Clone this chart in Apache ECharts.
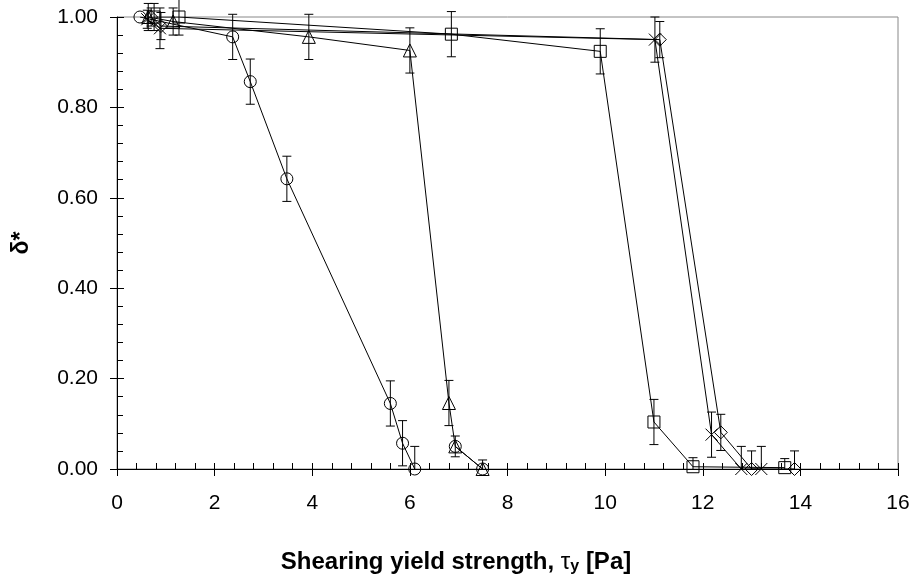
<!DOCTYPE html>
<html>
<head>
<meta charset="UTF-8">
<title>Shearing yield strength</title>
<script src="https://cdn.jsdelivr.net/npm/echarts@6/dist/echarts.min.js"></script>
<style>
  html, body { margin: 0; padding: 0; background: #fff; }
  #chart { width: 912px; height: 580px; }
</style>
</head>
<body>
<div id="chart"></div>
<script>
// data: x = shearing yield strength [Pa], y = delta*, err = error bar half-length
var circleX = [0.47, 2.37, 2.73, 3.48, 5.60, 5.85, 6.10];
var circleY = [1.00, 0.956, 0.857, 0.642, 0.145, 0.057, 0.000];
var circleErr = [0, 0.05, 0.05, 0.05, 0.05, 0.05, 0.05];

var triX = [0.64, 1.15, 3.93, 6.00, 6.80, 6.93, 7.49];
var triY = [1.00, 0.990, 0.956, 0.926, 0.146, 0.050, 0.000];
var triErr = [0.03, 0.03, 0.05, 0.05, 0.05, 0.023, 0.02];

var circle2X = [6.93, 7.49];
var circle2Y = [0.050, 0.000];

var squareX = [0.76, 1.27, 6.85, 9.90, 11.00, 11.80, 13.68];
var squareY = [1.00, 1.00, 0.962, 0.924, 0.104, 0.005, 0.003];
var squareErr = [0.03, 0.04, 0.05, 0.05, 0.05, 0.02, 0.02];

var crossX = [0.62, 0.88, 11.02, 12.18, 12.79, 13.20];
var crossY = [0.995, 0.975, 0.950, 0.076, 0.000, 0.000];
var crossErr = [0.02, 0.045, 0.05, 0.05, 0.05, 0.05];

var diamondX = [0.70, 0.90, 11.12, 12.37, 13.00, 13.88];
var diamondY = [1.00, 0.980, 0.950, 0.081, 0.000, 0.000];
var diamondErr = [0.02, 0.03, 0.04, 0.04, 0.04, 0.04];

var xTicks = [0, 2, 4, 6, 8, 10, 12, 14, 16];
var yTicks = [0.0, 0.2, 0.4, 0.6, 0.8, 1.0];

function pairs(xs, ys) {
  return xs.map(function (x, i) { return [x, ys[i]]; });
}
function triples(xs, ys, es) {
  return xs.map(function (x, i) { return [x, ys[i], es[i]]; });
}

var errData = [].concat(
  triples(circleX, circleY, circleErr),
  triples(triX, triY, triErr),
  triples(squareX, squareY, squareErr),
  triples(crossX, crossY, crossErr),
  triples(diamondX, diamondY, diamondErr)
).filter(function (d) { return d[2] > 0; });

function renderErr(params, api) {
  var x = api.value(0), y = api.value(1), e = api.value(2);
  var lo = Math.max(0, y - e);
  var top = api.coord([x, y + e]);
  var bot = api.coord([x, lo]);
  var hw = 4.5;
  var st = { stroke: '#000', lineWidth: 1 };
  var kids = [
    { type: 'line', shape: { x1: top[0], y1: top[1], x2: bot[0], y2: bot[1] }, style: st },
    { type: 'line', shape: { x1: top[0] - hw, y1: top[1], x2: top[0] + hw, y2: top[1] }, style: st }
  ];
  if (y - e > 0) {
    kids.push({ type: 'line', shape: { x1: bot[0] - hw, y1: bot[1], x2: bot[0] + hw, y2: bot[1] }, style: st });
  }
  return { type: 'group', children: kids };
}

function lineSeries(data, symbol, size) {
  return {
    type: 'line',
    data: data,
    symbol: symbol,
    symbolSize: size,
    showAllSymbol: true,
    lineStyle: { color: '#000', width: 1 },
    itemStyle: { color: 'rgba(0,0,0,0)', borderColor: '#000', borderWidth: 1 },
    z: 3
  };
}

var labelFont = { color: '#000', fontSize: 21, fontFamily: 'Liberation Sans, Arial, sans-serif' };

var chart = echarts.init(document.getElementById('chart'));
chart.setOption({
  animation: false,
  backgroundColor: '#fff',
  title: {
    text: 'Shearing yield strength, {tau|τ}{sub|y} [Pa]',
    left: 'center',
    top: 549,
    padding: 0,
    textStyle: {
      fontFamily: 'Liberation Sans, Arial, sans-serif',
      fontSize: 24,
      fontWeight: 'bold',
      color: '#000',
      lineHeight: 26,
      rich: {
        tau: { fontSize: 24, fontWeight: 'normal', color: '#000', lineHeight: 26,
               fontFamily: 'Liberation Sans, Arial, sans-serif' },
        sub: { fontSize: 16, fontWeight: 'bold', color: '#000', lineHeight: 14, verticalAlign: 'bottom',
               fontFamily: 'Liberation Sans, Arial, sans-serif' }
      }
    }
  },
  grid: {
    left: 117, right: 14, top: 17, bottom: 111,
    outerBoundsMode: 'none',
    containLabel: false,
    show: true, borderColor: '#888', borderWidth: 1, backgroundColor: '#fff'
  },
  xAxis: [{
    type: 'value', min: xTicks[0], max: xTicks[xTicks.length - 1], interval: 2,
    position: 'bottom',
    splitLine: { show: false },
    axisLine: { lineStyle: { color: '#000', width: 1 } },
    axisTick: { inside: false, length: 7, lineStyle: { color: '#000' } },
    axisLabel: Object.assign({ margin: 24 }, labelFont)
  }, {
    type: 'value', min: xTicks[0], max: xTicks[xTicks.length - 1], interval: 2,
    position: 'bottom',
    splitLine: { show: false },
    axisLine: { show: false },
    axisLabel: { show: false },
    axisTick: { inside: true, length: 6, lineStyle: { color: '#000' } },
    minorTick: { show: true, splitNumber: 5, length: 6, lineStyle: { color: '#000' } }
  }],
  yAxis: [{
    type: 'value', min: yTicks[0], max: yTicks[yTicks.length - 1], interval: 0.2,
    position: 'left',
    name: 'δ*',
    nameLocation: 'middle',
    nameRotate: 90,
    nameGap: 84,
    nameTextStyle: { color: '#000', fontSize: 23, fontWeight: 'bold',
                     fontFamily: 'Liberation Sans, Arial, sans-serif' },
    splitLine: { show: false },
    axisLine: { lineStyle: { color: '#000', width: 1 } },
    axisTick: { inside: false, length: 7, lineStyle: { color: '#000' } },
    axisLabel: Object.assign({ margin: 19, formatter: function (v) { return v.toFixed(2); } }, labelFont)
  }, {
    type: 'value', min: yTicks[0], max: yTicks[yTicks.length - 1], interval: 0.2,
    position: 'left',
    splitLine: { show: false },
    axisLine: { show: false },
    axisLabel: { show: false },
    axisTick: { inside: true, length: 7, lineStyle: { color: '#000' } },
    minorTick: { show: true, splitNumber: 5, length: 6, lineStyle: { color: '#000' } }
  }],
  series: [
    {
      type: 'custom',
      renderItem: renderErr,
      data: errData,
      z: 2,
      silent: true
    },
    lineSeries(pairs(circleX, circleY), 'circle', 12),
    lineSeries(pairs(triX, triY), 'triangle', 13),
    lineSeries(pairs(circle2X, circle2Y), 'circle', 12),
    lineSeries(pairs(squareX, squareY), 'rect', 12),
    lineSeries(pairs(crossX, crossY), 'path://M0,0L10,10M10,0L0,10', 12),
    lineSeries(pairs(diamondX, diamondY), 'diamond', 13)
  ]
});
</script>
</body>
</html>
